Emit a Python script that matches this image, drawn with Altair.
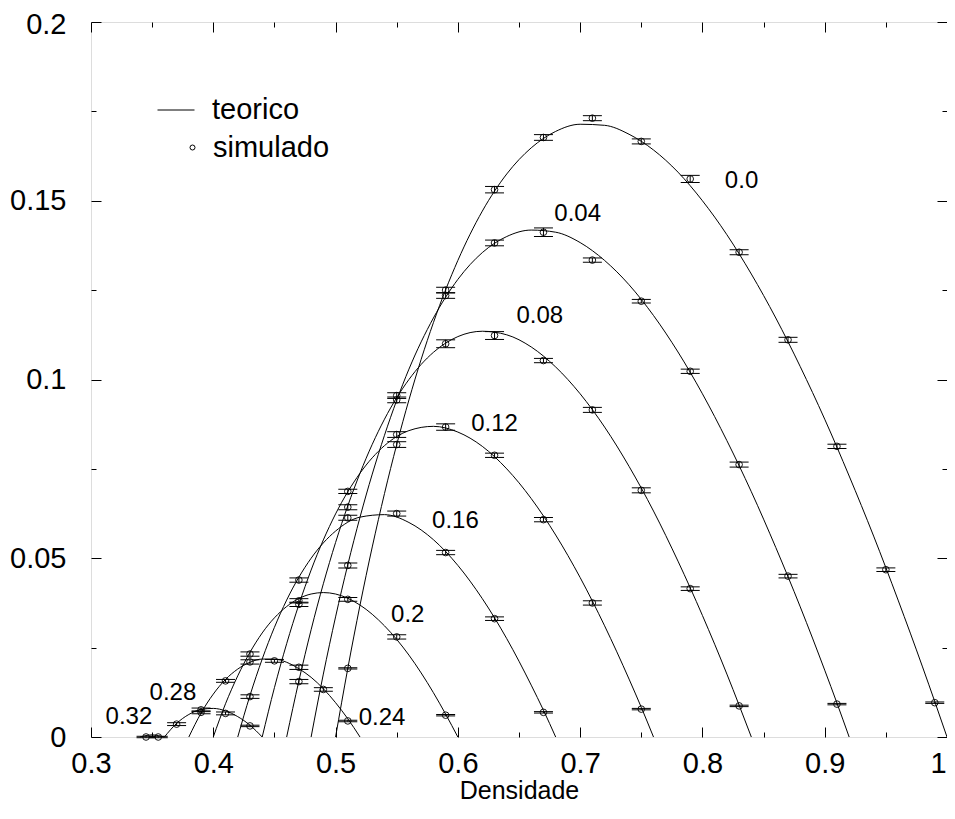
import altair as alt
import pandas as pd

# ---------------- axis ticks ----------------
x_major = [0.3, 0.4, 0.5, 0.6, 0.7, 0.8, 0.9, 1.0]
x_minor = [0.35, 0.45, 0.55, 0.65, 0.75, 0.85, 0.95]
y_major = [0.0, 0.05, 0.1, 0.15, 0.2]
y_minor = [0.025, 0.075, 0.125, 0.175]

# ---------------- theoretical curves ----------------
teo_000_x = [0.50, 0.51, 0.52, 0.54, 0.56, 0.58, 0.60, 0.62, 0.64, 0.66, 0.68, 0.70, 0.72, 0.74,
             0.76, 0.78, 0.80, 0.82, 0.84, 0.86, 0.88, 0.90, 0.92, 0.94, 0.96, 0.98, 0.99, 1.00]
teo_000_y = [0.0, 0.0192, 0.0369, 0.0681, 0.0943, 0.1159, 0.1333, 0.1471, 0.1575, 0.1648, 0.1694,
             0.1714, 0.1711, 0.1686, 0.1642, 0.1580, 0.1500, 0.1405, 0.1295, 0.1172, 0.1036, 0.0889,
             0.0730, 0.0562, 0.0383, 0.0196, 0.0099, 0.0]

teo_004_x = [0.48, 0.49, 0.50, 0.52, 0.54, 0.56, 0.58, 0.60, 0.62, 0.64, 0.66, 0.68, 0.70, 0.72,
             0.74, 0.76, 0.78, 0.80, 0.82, 0.84, 0.86, 0.88, 0.90, 0.91, 0.92]
teo_004_y = [0.0, 0.0176, 0.0336, 0.0615, 0.0844, 0.1029, 0.1172, 0.1280, 0.1355, 0.1400, 0.1418,
             0.1412, 0.1383, 0.1333, 0.1265, 0.1179, 0.1077, 0.0960, 0.0829, 0.0686, 0.0530, 0.0364,
             0.0187, 0.0095, 0.0]

teo_008_x = [0.46, 0.47, 0.48, 0.50, 0.52, 0.54, 0.56, 0.58, 0.60, 0.62, 0.64, 0.66, 0.68, 0.70,
             0.72, 0.74, 0.76, 0.78, 0.80, 0.82, 0.83, 0.84]
teo_008_y = [0.0, 0.0157, 0.0300, 0.0544, 0.0738, 0.0889, 0.1000, 0.1076, 0.1120, 0.1135, 0.1125,
             0.1091, 0.1035, 0.0960, 0.0867, 0.0757, 0.0632, 0.0492, 0.0340, 0.0176, 0.0089, 0.0]

teo_012_x = [0.44, 0.45, 0.46, 0.48, 0.50, 0.52, 0.54, 0.56, 0.58, 0.60, 0.62, 0.64, 0.66, 0.68,
             0.70, 0.72, 0.74, 0.75, 0.76]
teo_012_y = [0.0, 0.0138, 0.0261, 0.0467, 0.0624, 0.0738, 0.0815, 0.0857, 0.0869, 0.0853, 0.0813,
             0.0750, 0.0667, 0.0565, 0.0446, 0.0311, 0.0162, 0.0083, 0.0]

teo_016_x = [0.42, 0.43, 0.44, 0.46, 0.48, 0.50, 0.52, 0.54, 0.56, 0.58, 0.60, 0.62, 0.64, 0.66,
             0.67, 0.68]
teo_016_y = [0.0, 0.0116, 0.0218, 0.0383, 0.0500, 0.0576, 0.0615, 0.0622, 0.0600, 0.0552, 0.0480,
             0.0387, 0.0275, 0.0145, 0.0075, 0.0]

teo_020_x = [0.40, 0.41, 0.42, 0.44, 0.46, 0.48, 0.49, 0.50, 0.52, 0.54, 0.56, 0.58, 0.59, 0.60]
teo_020_y = [0.0, 0.0093, 0.0171, 0.0291, 0.0365, 0.0400, 0.0404, 0.0400, 0.0369, 0.0311, 0.0229,
             0.0124, 0.0064, 0.0]

teo_024_x = [0.38, 0.39, 0.40, 0.41, 0.42, 0.43, 0.44, 0.45, 0.46, 0.47, 0.48, 0.49, 0.50, 0.51, 0.52]
teo_024_y = [0.0, 0.0067, 0.0120, 0.0161, 0.0190, 0.0209, 0.0218, 0.0218, 0.0209, 0.0191, 0.0167,
             0.0135, 0.0096, 0.0051, 0.0]

teo_028_x = [0.36, 0.37, 0.38, 0.39, 0.40, 0.41, 0.42, 0.43, 0.44]
teo_028_y = [0.0, 0.0038, 0.0063, 0.0077, 0.0080, 0.0073, 0.0057, 0.0033, 0.0]

teo_032_x = [0.34, 0.345, 0.35, 0.355, 0.36]
teo_032_y = [0.0, 0.0004, 0.0006, 0.0004, 0.0]

# ---------------- simulated points with error bars ----------------
sim_000_x = [0.51, 0.55, 0.59, 0.63, 0.67, 0.71, 0.75, 0.79, 0.83, 0.87, 0.91, 0.95, 0.99]
sim_000_y = [0.0192, 0.0818, 0.1250, 0.1531, 0.1677, 0.1731, 0.1666, 0.1561, 0.1356, 0.1111, 0.0813, 0.0468, 0.0096]
sim_000_e = [0.0002, 0.0008, 0.0008, 0.0009, 0.0008, 0.0007, 0.0007, 0.0010, 0.0007, 0.0007, 0.0006, 0.0005, 0.0002]

sim_004_x = [0.51, 0.55, 0.59, 0.63, 0.67, 0.71, 0.75, 0.79, 0.83, 0.87, 0.91]
sim_004_y = [0.0480, 0.0943, 0.1235, 0.1382, 0.1412, 0.1334, 0.1219, 0.1023, 0.0762, 0.0450, 0.0092]
sim_004_e = [0.0007, 0.0008, 0.0008, 0.0008, 0.0012, 0.0006, 0.0005, 0.0006, 0.0007, 0.0005, 0.0002]

sim_008_x = [0.47, 0.51, 0.55, 0.59, 0.63, 0.67, 0.71, 0.75, 0.79, 0.83]
sim_008_y = [0.0155, 0.0643, 0.0955, 0.1100, 0.1123, 0.1053, 0.0915, 0.0690, 0.0415, 0.0087]
sim_008_e = [0.0006, 0.0007, 0.0008, 0.0011, 0.0011, 0.0006, 0.0007, 0.0007, 0.0005, 0.0002]

sim_012_x = [0.47, 0.51, 0.55, 0.59, 0.63, 0.67, 0.71, 0.75]
sim_012_y = [0.0371, 0.0687, 0.0846, 0.0867, 0.0788, 0.0608, 0.0375, 0.0078]
sim_012_e = [0.0006, 0.0006, 0.0008, 0.0009, 0.0006, 0.0006, 0.0006, 0.0002]

sim_016_x = [0.43, 0.47, 0.51, 0.55, 0.59, 0.63, 0.67]
sim_016_y = [0.0113, 0.0439, 0.0613, 0.0625, 0.0516, 0.0331, 0.0069]
sim_016_e = [0.0005, 0.0006, 0.0007, 0.0007, 0.0006, 0.0005, 0.0002]

sim_020_x = [0.43, 0.47, 0.51, 0.55, 0.59]
sim_020_y = [0.0232, 0.0381, 0.0385, 0.0280, 0.0061]
sim_020_e = [0.0006, 0.0006, 0.0005, 0.0006, 0.0002]

sim_024_x = [0.39, 0.41, 0.43, 0.45, 0.47, 0.49, 0.51]
sim_024_y = [0.0069, 0.0157, 0.0210, 0.0213, 0.0195, 0.0133, 0.0045]
sim_024_e = [0.0004, 0.0004, 0.0006, 0.0004, 0.0006, 0.0005, 0.0002]

sim_028_x = [0.37, 0.39, 0.41, 0.43]
sim_028_y = [0.0036, 0.0076, 0.0066, 0.0031]
sim_028_e = [0.0004, 0.0005, 0.0004, 0.0002]

sim_032_x = [0.345, 0.355]
sim_032_y = [0.0, 0.0]
sim_032_e = [0.0002, 0.0002]

# ---------------- curve labels ----------------
lab_text = ["0.0", "0.04", "0.08", "0.12", "0.16", "0.2", "0.24", "0.28", "0.32"]
lab_x = [0.832, 0.698, 0.667, 0.630, 0.598, 0.559, 0.538, 0.367, 0.331]
lab_y = [0.1556, 0.1463, 0.1177, 0.0876, 0.0604, 0.0341, 0.0052, 0.0122, 0.0057]

# ---------------- build tables ----------------
teo_sets = [("0.0", teo_000_x, teo_000_y), ("0.04", teo_004_x, teo_004_y), ("0.08", teo_008_x, teo_008_y),
            ("0.12", teo_012_x, teo_012_y), ("0.16", teo_016_x, teo_016_y), ("0.2", teo_020_x, teo_020_y),
            ("0.24", teo_024_x, teo_024_y), ("0.28", teo_028_x, teo_028_y), ("0.32", teo_032_x, teo_032_y)]
sim_sets = [("0.0", sim_000_x, sim_000_y, sim_000_e), ("0.04", sim_004_x, sim_004_y, sim_004_e),
            ("0.08", sim_008_x, sim_008_y, sim_008_e), ("0.12", sim_012_x, sim_012_y, sim_012_e),
            ("0.16", sim_016_x, sim_016_y, sim_016_e), ("0.2", sim_020_x, sim_020_y, sim_020_e),
            ("0.24", sim_024_x, sim_024_y, sim_024_e), ("0.28", sim_028_x, sim_028_y, sim_028_e),
            ("0.32", sim_032_x, sim_032_y, sim_032_e)]

teo_rows = []
for p, xs_, ys_ in teo_sets:
    for a, b in zip(xs_, ys_):
        teo_rows.append({"p": p, "rho": a, "J": b, "kind": "teorico"})
df_teo = pd.DataFrame(teo_rows)

sim_rows = []
for p, xs_, ys_, es_ in sim_sets:
    for a, b, e in zip(xs_, ys_, es_):
        sim_rows.append({"p": p, "rho": a, "J": b, "lo": b - e, "hi": b + e, "kind2": "simulado"})
df_sim = pd.DataFrame(sim_rows)

df_lab = pd.DataFrame({"t": lab_text, "rho": lab_x, "J": lab_y})
df_ax = pd.DataFrame({"rho": [x_major[0]], "J": [y_major[0]]})

# ---------------- chart ----------------
W, H = 856, 715
FONT = "Liberation Sans"
xs = alt.Scale(domain=[0.3, 1.0], nice=False, zero=False)
ys = alt.Scale(domain=[0.0, 0.2], nice=False, zero=False)

X = lambda f="rho": alt.X(f"{f}:Q", scale=xs, axis=None)
Y = lambda f="J": alt.Y(f"{f}:Q", scale=ys, axis=None)

lines = alt.Chart(df_teo).mark_line(color="black", strokeWidth=1, interpolate="monotone").encode(
    x=X(), y=Y(), detail="p:N", order="rho:Q",
    color=alt.Color("kind:N", scale=alt.Scale(domain=["teorico"], range=["black"]),
                    legend=alt.Legend(orient="none", legendX=66, legendY=69, title=None,
                                      symbolType="stroke", symbolSize=1369, symbolStrokeWidth=1,
                                      symbolStrokeColor="black", labelFont=FONT, labelFontSize=29,
                                      labelColor="black", labelOffset=17, padding=0)),
)

bars = alt.Chart(df_sim).mark_rule(color="black", strokeWidth=1).encode(
    x=X(), y=Y("lo"), y2="hi:Q")
cap_lo = alt.Chart(df_sim).mark_tick(orient="horizontal", color="black", size=19, thickness=1, opacity=1).encode(
    x=X(), y=Y("lo"))
cap_hi = alt.Chart(df_sim).mark_tick(orient="horizontal", color="black", size=19, thickness=1, opacity=1).encode(
    x=X(), y=Y("hi"))

pts = alt.Chart(df_sim).mark_point(filled=False, color="black", size=44, strokeWidth=0.9, opacity=1).encode(
    x=X(), y=Y(),
    shape=alt.Shape("kind2:N", scale=alt.Scale(domain=["simulado"], range=["circle"]),
                    legend=alt.Legend(orient="none", legendX=87, legendY=111, title=None,
                                      symbolSize=25, symbolStrokeWidth=1, symbolStrokeColor="black",
                                      symbolFillColor="transparent", labelFont=FONT, labelFontSize=29,
                                      labelColor="black", labelOffset=6, padding=0)),
)

labels = alt.Chart(df_lab).mark_text(font=FONT, fontSize=24, color="black", align="center",
                                     baseline="middle").encode(x=X(), y=Y(), text="t:N")


def tick_axis(values, orient, size, offset):
    return alt.Axis(orient=orient, offset=offset, values=values, ticks=True, tickSize=size,
                    tickColor="black", tickWidth=1, labels=False, domain=False, grid=False, title=None)


def label_axis(values, orient, pad, shift=0, title=None):
    kw = dict(orient=orient, values=values, format="~g", ticks=False, tickSize=0, domain=False,
              grid=False, labelFont=FONT, labelFontSize=29, labelColor="black", labelPadding=pad,
              labelFlush=False, labelOverlap=False, labelOffset=shift)
    if title is None:
        kw["title"] = None
    else:
        kw.update(title=title, titleFont=FONT, titleFontSize=25, titleFontWeight="normal",
                  titleColor="black", titlePadding=0)
    return alt.Axis(**kw)


def axis_layer(xaxis, yaxis):
    return alt.Chart(df_ax).mark_point(opacity=0).encode(
        x=alt.X("rho:Q", scale=xs, axis=xaxis), y=alt.Y("J:Q", scale=ys, axis=yaxis))


ax1 = axis_layer(label_axis(x_major[:-1], "bottom", 12, 0, "Densidade"), label_axis(y_major[:-1], "left", 25))
ax2 = axis_layer(tick_axis(x_major, "top", 10, -H), tick_axis(y_major, "right", 10, -W))
ax3 = axis_layer(tick_axis(x_minor, "top", 5, -H), tick_axis(y_minor, "right", 5, -W))
ax4 = axis_layer(tick_axis(x_major, "bottom", 10, -H), tick_axis(y_major, "left", 10, -W))
ax5 = axis_layer(tick_axis(x_minor, "bottom", 5, -H), tick_axis(y_minor, "left", 5, -W))
ax6 = axis_layer(label_axis(x_major[-1:], "bottom", 12, -9), label_axis(y_major[-1:], "left", 25, 2))

chart = alt.layer(lines, bars, cap_lo, cap_hi, pts, labels, ax1, ax2, ax3, ax4, ax5, ax6).resolve_axis(
    x="independent", y="independent"
).properties(
    width=W, height=H,
    autosize=alt.AutoSizeParams(type="none"),
    padding={"left": 83, "top": 14, "right": 0, "bottom": 68},
).configure_view(stroke="black", strokeWidth=1).configure(background="white")

chart.save("out.html", embed_options={"renderer": "svg", "actions": False})
